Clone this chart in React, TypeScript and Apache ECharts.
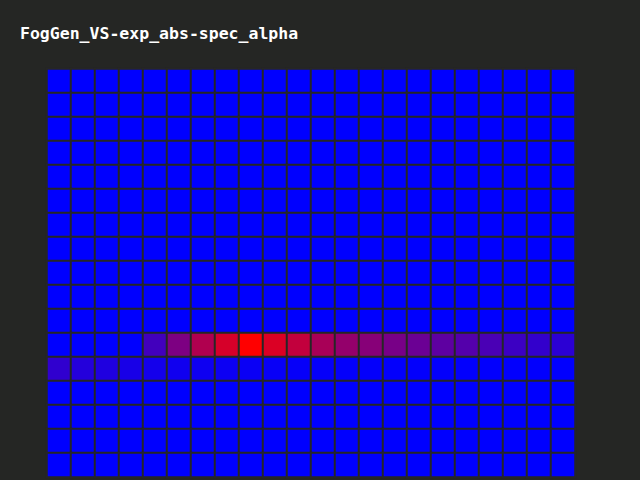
import React, { useEffect, useRef } from "react";
import * as echarts from "echarts";

const title = "FogGen_VS-exp_abs-spec_alpha";
const columns = Array.from({ length: 22 }, (_, i) => String(i));
const rowsLabels = Array.from({ length: 17 }, (_, i) => String(i));

const zeroRow = [0, 0, 0, 0, 0, 0, 0, 0, 0, 0, 0, 0, 0, 0, 0, 0, 0, 0, 0, 0, 0, 0];
const peakRow = [0, 0, 0, 0, 0.26, 0.49, 0.69, 0.84, 1.0, 0.86, 0.76, 0.66, 0.58, 0.53, 0.47, 0.42, 0.37, 0.33, 0.29, 0.235, 0.2, 0.17];
const shoulderRow = [0.19, 0.14, 0.12, 0.095, 0.08, 0.063, 0.055, 0.047, 0.04, 0.031, 0.024, 0.02, 0.016, 0.014, 0.012, 0.01, 0.01, 0.008, 0.008, 0.006, 0.006, 0.005];

const grid: number[][] = [
  zeroRow, zeroRow, zeroRow, zeroRow, zeroRow, zeroRow,
  zeroRow, zeroRow, zeroRow, zeroRow, zeroRow,
  peakRow, shoulderRow,
  zeroRow, zeroRow, zeroRow, zeroRow,
];

export default function App() {
  const ref = useRef<HTMLDivElement>(null);
  useEffect(() => {
    if (!ref.current) return;
    const chart = echarts.init(ref.current, undefined, { renderer: "svg" });
    const data: number[][] = [];
    grid.forEach((row, y) => row.forEach((v, x) => data.push([x, y, v])));
    chart.setOption({
      animation: false,
      backgroundColor: "#252624",
      title: {
        text: title,
        left: 20,
        top: 25,
        padding: 0,
        textStyle: {
          color: "#ffffff",
          fontFamily: "DejaVu Sans Mono",
          fontWeight: "bold",
          fontSize: 16.5,
        },
      },
      grid: { left: 47, top: 69, width: 528, height: 408 },
      xAxis: { type: "category", data: columns, show: false },
      yAxis: { type: "category", data: rowsLabels, show: false, inverse: true },
      visualMap: {
        show: false,
        min: 0,
        max: 1,
        inRange: { color: ["#0000ff", "#ff0000"] },
      },
      series: [
        {
          type: "heatmap",
          data,
          itemStyle: { borderColor: "#262626", borderWidth: 2 },
          emphasis: { disabled: true },
        },
      ],
    });
    return () => chart.dispose();
  }, []);
  return (
    <div
      ref={ref}
      style={{ position: "fixed", left: 0, top: 0, width: 640, height: 480 }}
    />
  );
}
